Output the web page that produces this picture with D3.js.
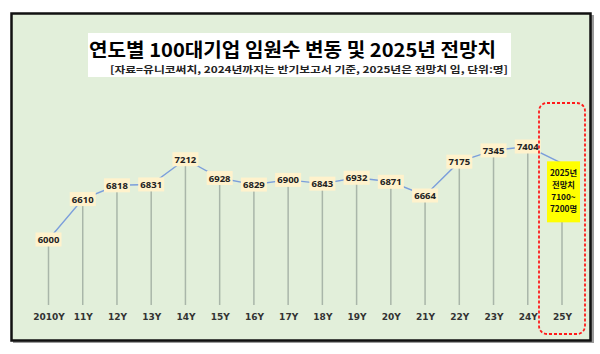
<!DOCTYPE html>
<html>
<head>
<meta charset="utf-8">
<script src="https://cdn.jsdelivr.net/npm/d3@7"></script>
<style>
  body { margin: 0; background: #fff; }
  svg { display: block; }
</style>
</head>
<body>
<svg id="chart" width="600" height="354"></svg>
<script>
// chart data
const years = ["2010Y", "11Y", "12Y", "13Y", "14Y", "15Y", "16Y", "17Y", "18Y", "19Y", "20Y", "21Y", "22Y", "23Y", "24Y", "25Y"];
const execs = [6000, 6610, 6818, 6831, 7212, 6928, 6829, 6900, 6843, 6932, 6871, 6664, 7175, 7345, 7404];
const forecast = 7150; // 2025 midpoint 7100~7200
const forecastText = ["2025년", "전망치", "7100~", "7200명"];
const title = "연도별 100대기업 임원수 변동 및 2025년 전망치";
const subtitle = "[자료=유니코써치, 2024년까지는 반기보고서 기준, 2025년은 전망치 임, 단위:명]";

const allVals = execs.concat([forecast]);

const svg = d3.select("#chart");

// frame
svg.append("rect").attr("x", 13).attr("y", 15).attr("width", 581).attr("height", 328)
  .attr("fill", "#9a9a9a");
svg.append("rect").attr("x", 11.5).attr("y", 13.5).attr("width", 579).attr("height", 327)
  .attr("fill", "#e2efda").attr("stroke", "#111").attr("stroke-width", 2.5);

// title block
svg.append("rect").attr("x", 88).attr("y", 33).attr("width", 423).attr("height", 44).attr("fill", "#fff");
svg.append("text").attr("x", 89).attr("y", 56.5)
  .attr("font-family", "'Noto Sans CJK KR'").attr("font-weight", 700).attr("font-size", 19)
  .attr("textLength", 407).attr("lengthAdjust", "spacingAndGlyphs")
  .attr("fill", "#000").text(title);
svg.append("text").attr("x", 110).attr("y", 73)
  .attr("font-family", "'Noto Sans CJK KR'").attr("font-weight", 700).attr("font-size", 9.5)
  .attr("textLength", 398).attr("lengthAdjust", "spacingAndGlyphs")
  .attr("fill", "#222").text(subtitle);

const x = d3.scalePoint().domain(years).range([48.5, 562]);
const y = d3.scaleLinear().domain([6000, 7404]).range([239.5, 146.5]);
const baseY = 305;

// x axis labels
const xAxis = svg.append("g").attr("transform", "translate(0," + 314 + ")")
  .call(d3.axisBottom(x).tickSize(0).tickPadding(0));
xAxis.select(".domain").remove();
xAxis.selectAll("text")
  .attr("font-family", "'DejaVu Sans'").attr("font-weight", 700).attr("font-size", 9)
  .attr("fill", "#333");

// drop lines
svg.append("g").selectAll("line")
  .data(allVals).enter().append("line")
  .attr("x1", (d, i) => x(years[i])).attr("x2", (d, i) => x(years[i]))
  .attr("y1", d => y(d)).attr("y2", baseY)
  .attr("stroke", "#a9b6a9").attr("stroke-width", 1.5);

// line
const line = d3.line().x((d, i) => x(years[i])).y(d => y(d));
svg.append("path").datum(allVals).attr("d", line)
  .attr("fill", "none").attr("stroke", "#7b9edb").attr("stroke-width", 1.4);

// data labels
const lab = svg.append("g").selectAll("g")
  .data(execs).enter().append("g")
  .attr("transform", (d, i) => "translate(" + x(years[i]) + "," + y(d) + ")");
lab.append("rect").attr("x", -13).attr("y", -7).attr("width", 26).attr("height", 14)
  .attr("fill", "#fff2cc");
lab.append("text").attr("y", 3.5).attr("text-anchor", "middle")
  .attr("font-family", "'Noto Sans'").attr("font-weight", 700).attr("font-size", 9.5)
  .attr("fill", "#222").text(d => d);

// forecast highlight
const fx = x(years[15]);
const fy = y(forecast);
svg.append("rect").attr("x", fx - 23).attr("y", 103).attr("width", 46).attr("height", 231)
  .attr("rx", 8).attr("fill", "none")
  .attr("stroke", "#ff1a1a").attr("stroke-width", 1.8).attr("stroke-dasharray", "3,2");
svg.append("rect").attr("x", fx - 15).attr("y", fy - 2).attr("width", 33).attr("height", 61)
  .attr("fill", "#ffff00");
svg.append("g").selectAll("text")
  .data(forecastText).enter().append("text")
  .attr("x", fx + 1.5).attr("y", (d, i) => fy + 12.5 + i * 12.2)
  .attr("text-anchor", "middle")
  .attr("font-family", "'Noto Sans CJK KR'").attr("font-weight", 700).attr("font-size", 8.3)
  .attr("fill", "#111").text(d => d);
</script>
</body>
</html>
